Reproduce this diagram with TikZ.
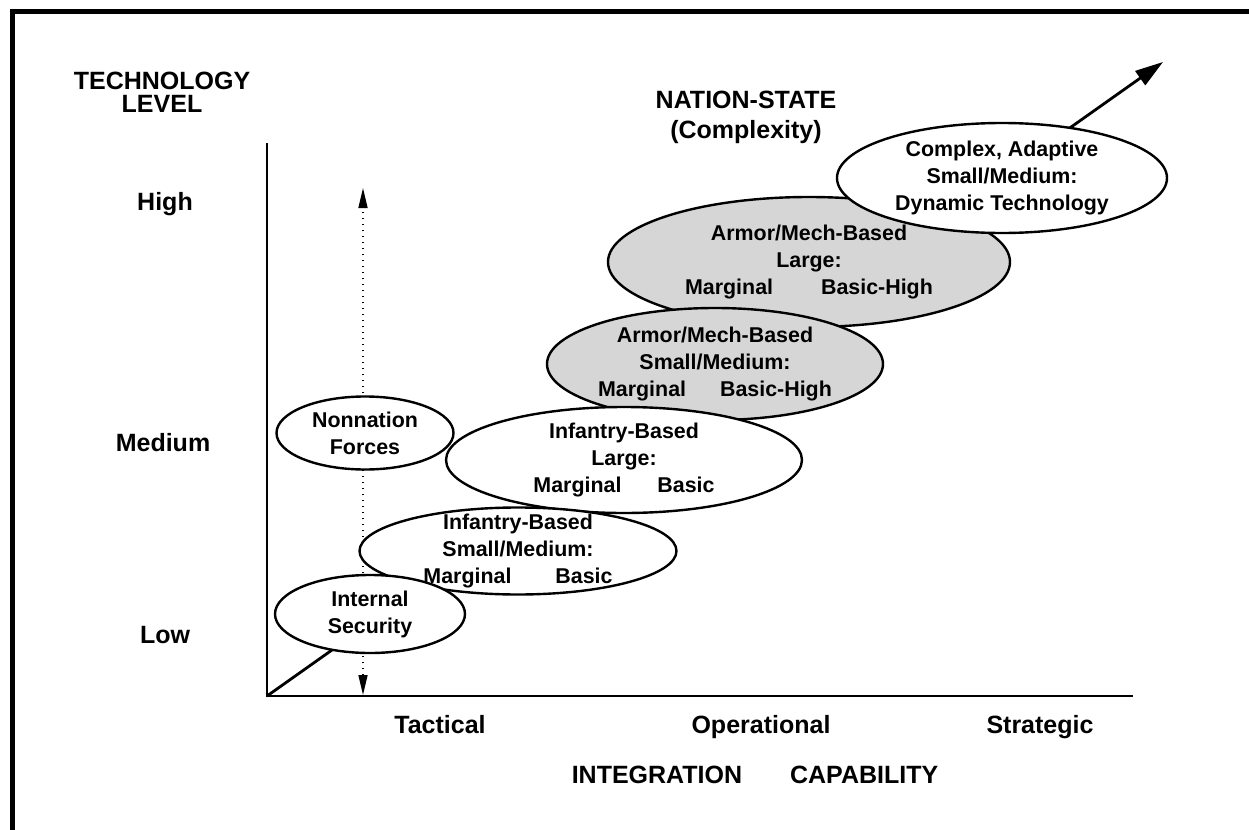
\documentclass[tikz,border=0pt]{standalone}
\usepackage{fontspec}
\setmainfont{Liberation Sans}
\usetikzlibrary{arrows.meta}
\usetikzlibrary{shapes.geometric}

\begin{document}
\begin{tikzpicture}[x=0.5pt,y=-0.5pt,
                    >={Triangle[length=14pt,width=8.5pt]},
                    blob/.style={ellipse,draw,line width=1.2pt,fill=white,inner sep=-20pt,
                                 align=center,font={\fontsize{10.7}{13.5}\selectfont\bfseries}},
                    shaded/.style={blob,fill=black!16},
                    lbl/.style={align=center,font={\fontsize{12.5}{15}\selectfont\bfseries}},
                    word/.style={lbl,text height=9pt,text depth=3pt},
                    dots/.style={line width=0.8pt,dash pattern=on 0.8pt off 2.2pt,
                                 <->,>={Triangle[length=10pt,width=4.5pt]}}
                    ]
  \useasboundingbox (0,0) rectangle (1249,830);
  % frame
  \draw[line width=2.5pt] (12,830) |- (1249,11);

  % axes
  \coordinate (O)    at (267,696);
  \coordinate (ytop) at (267,143);
  \coordinate (xend) at (1133,696);
  \coordinate (tip)  at (1163,62);
  \coordinate (dtop) at (363,188);
  \coordinate (dbot) at (363,695);
  \draw[line width=1pt] (ytop) -- (O) -- (xend);
  \draw[line width=1.4pt,->] (O) -- (tip);
  \draw[dots] (dbot) -- (dtop);

  % axis labels
  \node[lbl] (tech)  at (162,92)  [text depth=0pt,font={\fontsize{12.5}{11.5}\selectfont\bfseries}] {TECHNOLOGY\\LEVEL};
  \node[lbl] (nation) at (746,117) {NATION-STATE\\(Complexity)};
  \node[word] (high)  at (165,204) {High};
  \node[word] (med)   at (163,445) {Medium};
  \node[word] (low)   at (165,637) {Low};
  \node[word] (tact)  at (440,727) {Tactical};
  \node[word] (oper)  at (761,727) {Operational};
  \node[word] (strat) at (1040,727) {Strategic};
  \node[word] (integ) at (755,777) {INTEGRATION\hspace{24pt}CAPABILITY};

  % force types
  \node[shaded,minimum width=201pt,minimum height=65pt] (amlarge) at (809,262)
       {Armor/Mech-Based\\Large:\\Marginal\hspace{24pt}Basic-High};
  \node[blob,minimum width=165pt,minimum height=55pt] (complex) at (1002,178)
       {Complex, Adaptive\\Small/Medium:\\Dynamic Technology};
  \node[shaded,minimum width=168pt,minimum height=56pt] (amsmall) at (715,364)
       {Armor/Mech-Based\\Small/Medium:\\Marginal\hspace{17pt}Basic-High};
  \node[blob,minimum width=88.5pt,minimum height=36.5pt] (nonnat) at (365,433)
       {Nonnation\\Forces};
  \node[blob,minimum width=178pt,minimum height=53pt] (inflarge) at (624,460)
       {Infantry-Based\\Large:\\Marginal\hspace{18pt}Basic};
  \node[blob,minimum width=158.5pt,minimum height=43.5pt] (infsmall) at (518,551)
       {Infantry-Based\\Small/Medium:\\Marginal\hspace{22pt}Basic};
  \node[blob,minimum width=95pt,minimum height=39pt] (intsec) at (370,614)
       {Internal\\Security};
\end{tikzpicture}
\end{document}
